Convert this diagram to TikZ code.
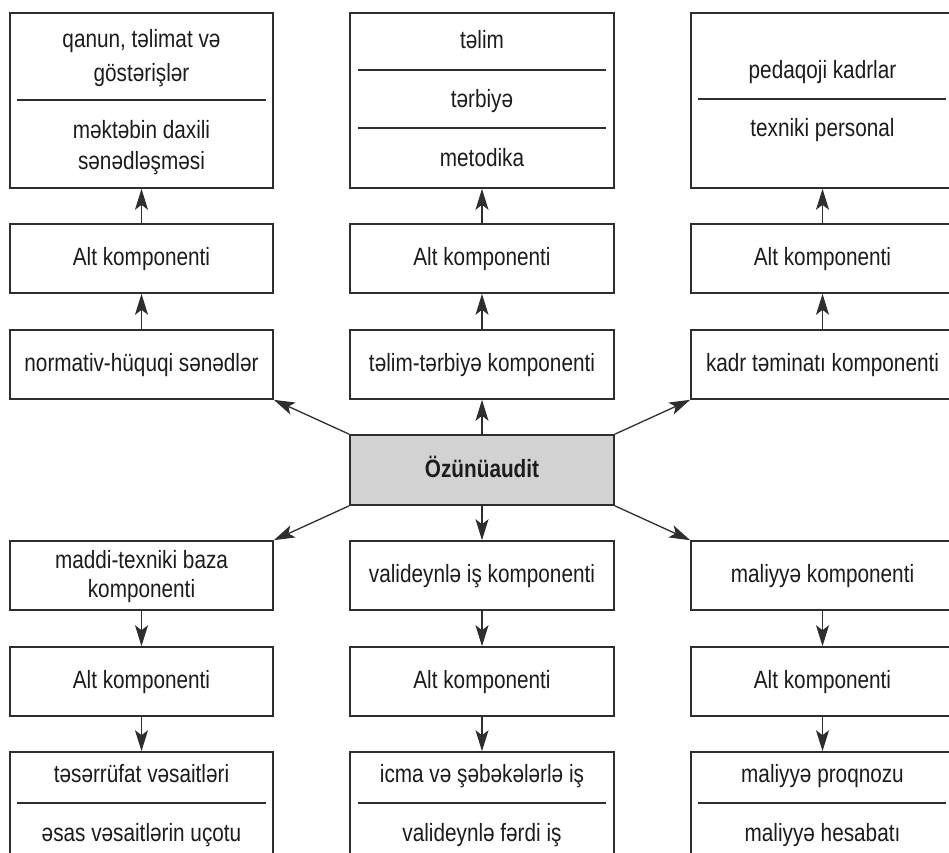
\documentclass[tikz,border=0pt]{standalone}
\usepackage{fontspec}
\setmainfont{Liberation Sans}[FakeStretch=0.83]
\usetikzlibrary{arrows.meta}
\definecolor{linec}{HTML}{2E2E2E}
\definecolor{txt}{HTML}{1E1B1C}
\definecolor{cenfill}{HTML}{D2D2D2}
\begin{document}
\begin{tikzpicture}[x=1pt,y=-1pt,
  box/.style={draw=linec, line width=1.6pt, inner sep=0pt, minimum width=263pt, minimum height=69pt},
  lbl/.style={anchor=base, inner sep=0pt, font=\fontsize{25}{30}\selectfont, text=txt},
  arr/.style={draw=linec, line width=1.3pt, -{Stealth[length=21pt,width=13pt,inset=5pt]}},
  sep/.style={draw=linec, line width=1.3pt}]
\useasboundingbox (0,0) rectangle (949,852);
\clip (0,0) rectangle (949,852);
% top boxes
\node[box, minimum height=175pt] (T1) at (141.5,100.5) {};
\node[box, minimum height=175pt, minimum width=264pt] (T2) at (482,100.5) {};
\node[box, minimum height=175pt] (T3) at (822.5,100.5) {};
% alt rows
\node[box] (A1) at (141.5,258.5) {};
\node[box, minimum width=264pt] (A2) at (482,258.5) {};
\node[box] (A3) at (822.5,258.5) {};
\node[box] (C1) at (141.5,364.5) {};
\node[box, minimum width=264pt] (C2) at (482,364.5) {};
\node[box] (C3) at (822.5,364.5) {};
% center
\node[box, minimum width=264pt, minimum height=70pt, fill=cenfill] (Cen) at (482,470) {};
% bottom rows
\node[box] (B1) at (141.5,575.5) {};
\node[box, minimum width=264pt] (B2) at (482,575.5) {};
\node[box] (B3) at (822.5,575.5) {};
\node[box] (D1) at (141.5,681.5) {};
\node[box, minimum width=264pt] (D2) at (482,681.5) {};
\node[box] (D3) at (822.5,681.5) {};
\node[box, minimum height=128pt] (E1) at (141.5,816) {};
\node[box, minimum height=128pt, minimum width=264pt] (E2) at (482,816) {};
\node[box, minimum height=128pt] (E3) at (822.5,816) {};
% separators
\draw[sep] (17,100) -- (266,100);
\draw[sep] (358,70) -- (606,70);
\draw[sep] (358,128) -- (606,128);
\draw[sep] (698,99) -- (946,99);
\draw[sep] (17,803) -- (266,803);
\draw[sep] (358,803) -- (606,803);
\draw[sep] (698,803) -- (946,803);
% texts
\node[lbl] (t1a) at (141.5,47) {qanun, təlimat və};
\node[lbl] (t1b) at (141.5,81) {göstərişlər};
\node[lbl] (t1c) at (141.5,138) {məktəbin daxili};
\node[lbl] (t1d) at (141.5,169) {sənədləşməsi};
\node[lbl] (t2a) at (482,48) {təlim};
\node[lbl] (t2b) at (482,107) {tərbiyə};
\node[lbl] (t2c) at (482,166) {metodika};
\node[lbl] (t3a) at (822.5,78) {pedaqoji kadrlar};
\node[lbl] (t3b) at (822.5,136) {texniki personal};
\node[lbl] (a1t) at (141.5,265) {Alt komponenti};
\node[lbl] (a2t) at (482,265) {Alt komponenti};
\node[lbl] (a3t) at (822.5,265) {Alt komponenti};
\node[lbl] (c1t) at (141.5,371) {normativ-hüquqi sənədlər};
\node[lbl] (c2t) at (482,371) {təlim-tərbiyə komponenti};
\node[lbl] (c3t) at (822.5,371) {kadr təminatı komponenti};
\node[lbl, font=\fontsize{25}{30}\selectfont\bfseries] (cent) at (482,477) {Özünüaudit};
\node[lbl] (b1a) at (141.5,568) {maddi-texniki baza};
\node[lbl] (b1b) at (141.5,597) {komponenti};
\node[lbl] (b2t) at (482,582) {valideynlə iş komponenti};
\node[lbl] (b3t) at (822.5,582) {maliyyə komponenti};
\node[lbl] (d1t) at (141.5,688) {Alt komponenti};
\node[lbl] (d2t) at (482,688) {Alt komponenti};
\node[lbl] (d3t) at (822.5,688) {Alt komponenti};
\node[lbl] (e1a) at (141.5,782) {təsərrüfat vəsaitləri};
\node[lbl] (e1b) at (141.5,841) {əsas vəsaitlərin uçotu};
\node[lbl] (e2a) at (482,782) {icma və şəbəkələrlə iş};
\node[lbl] (e2b) at (482,841) {valideynlə fərdi iş};
\node[lbl] (e3a) at (822.5,782) {maliyyə proqnozu};
\node[lbl] (e3b) at (822.5,841) {maliyyə hesabatı};
% arrows
\draw[arr] (A1) -- (T1);
\draw[arr] (A2) -- (T2);
\draw[arr] (A3) -- (T3);
\draw[arr] (C1) -- (A1);
\draw[arr] (C2) -- (A2);
\draw[arr] (C3) -- (A3);
\draw[arr] (Cen) -- (C2);
\draw[arr] (Cen.north west) -- (C1.south east);
\draw[arr] (Cen.north east) -- (C3.south west);
\draw[arr] (Cen) -- (B2);
\draw[arr] (Cen.south west) -- (B1.north east);
\draw[arr] (Cen.south east) -- (B3.north west);
\draw[arr] (B1) -- (D1);
\draw[arr] (B2) -- (D2);
\draw[arr] (B3) -- (D3);
\draw[arr] (D1) -- (E1);
\draw[arr] (D2) -- (E2);
\draw[arr] (D3) -- (E3);
\end{tikzpicture}
\end{document}
